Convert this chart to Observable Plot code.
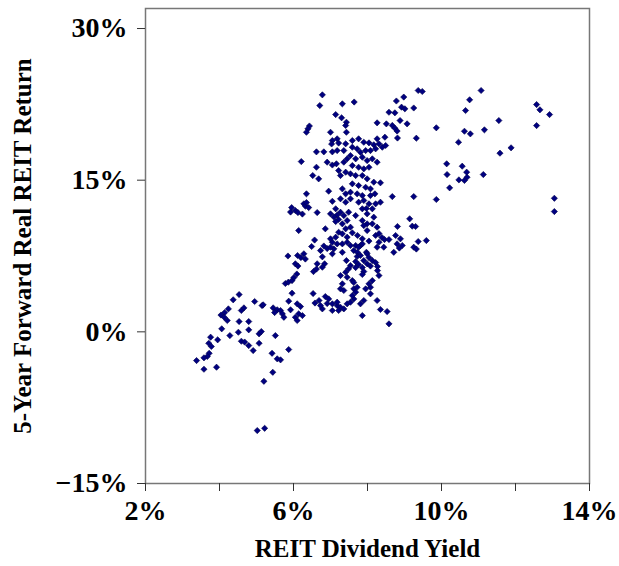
<!DOCTYPE html>
<html><head><meta charset="utf-8">
<script src="https://cdn.jsdelivr.net/npm/d3@7"></script>
<script src="https://cdn.jsdelivr.net/npm/@observablehq/plot@0.6"></script>
<style>body{margin:0;background:#fff}</style>
</head><body><div id="chart"></div>
<script>
const xTitle = "REIT Dividend Yield";
const yTitle = "5-Year Forward Real REIT Return";
const xTicks = [2, 4, 6, 8, 10, 12, 14];
const xTickLabels = ["2%", "", "6%", "", "10%", "", "14%"];
const yTicks = [-15, 0, 15, 30];
const yTickLabels = ["\u221215%", "0%", "15%", "30%"];

// [dividend yield %, 5-year forward real return %]
const lowerLeft = [[4.53,3.69],[4.37,3.17],[4.95,3.00],[5.15,2.60],[4.24,2.27],[4.14,1.91],[4.04,1.66],[4.13,1.44],[4.21,1.12],[4.59,2.11],[4.66,2.37],[4.53,1.02],[4.79,1.02],[4.06,0.30],[4.79,0.20],[4.51,-0.04],[4.28,-0.37],[5.07,-0.20],[5.13,0.03],[5.51,-0.37],[4.59,-0.93],[4.68,-1.01],[4.79,-1.36],[5.07,-1.13],[4.91,-1.85],[3.95,-0.79],[3.76,-0.53],[3.71,-1.13],[3.78,-1.45],[3.72,-2.12],[3.67,-2.44],[3.58,-2.57],[3.38,-2.84],[3.58,-3.70],[3.92,-3.50],[5.42,-2.12],[5.56,-2.67],[5.65,-2.77],[5.87,-1.75],[5.44,-4.00],[5.20,-4.89],[5.02,-9.76],[5.22,-9.54],[5.18,2.67],[5.45,2.37],[5.56,2.18],[5.65,2.11],[5.49,1.91],[5.70,1.78],[5.74,1.44],[5.92,2.18],[5.87,3.03],[5.96,3.82],[6.10,2.77],[6.19,2.50],[6.14,1.78],[6.05,1.44],[6.24,1.61],[6.10,1.12],[5.78,4.78],[5.86,4.91],[5.96,5.07],[6.01,5.37],[6.09,5.72]];
const lowBand = [[6.53,3.79],[6.58,2.85],[6.69,3.10],[6.86,3.49],[6.91,2.80],[6.78,2.27],[6.54,5.96],[6.62,6.21],[6.73,2.60],[6.95,3.26],[7.05,2.77],[7.18,2.60],[7.27,2.43],[7.36,2.27],[7.45,2.77],[7.54,2.93],[7.05,2.11],[7.22,2.11],[7.18,2.93]];
const midLeft = [[5.95,12.29],[5.92,11.85],[6.05,12.00],[6.12,11.80],[6.24,11.65],[6.28,12.66],[6.32,12.44],[6.41,12.29],[6.35,12.79],[6.64,11.80],[6.14,10.02],[6.57,9.08],[6.49,8.44],[6.82,8.49],[6.91,8.24],[6.73,8.04],[7.09,8.21],[6.86,10.19],[5.85,7.50],[6.11,7.55],[6.20,7.35],[6.28,7.72],[6.32,7.20],[6.05,6.73],[6.12,6.51],[6.78,7.42],[7.05,7.72],[6.64,6.73],[6.84,6.73],[6.78,6.39],[7.14,9.36],[7.05,8.86],[7.00,8.37],[7.18,8.70],[7.32,8.70],[7.00,9.20],[7.22,9.85],[7.32,9.69]];
const midUpper = [[7.05,12.91],[7.14,12.17],[7.00,11.67],[7.18,11.55],[7.09,11.36],[7.22,11.11],[7.14,10.91],[7.32,10.68],[7.27,13.16],[7.41,12.82],[7.54,13.16],[7.27,11.83],[7.36,11.50],[7.49,11.83],[7.68,11.50],[7.76,12.82],[7.90,12.99],[7.86,12.17],[7.97,12.20],[8.04,12.66],[8.13,12.17],[7.99,11.67],[8.17,11.34],[8.22,12.66],[8.35,12.82],[8.67,13.38],[9.25,13.38],[9.86,13.09],[7.45,11.01],[7.54,10.35],[7.86,11.01],[7.99,10.68],[8.13,10.68],[8.26,10.35],[8.81,10.42],[9.14,11.18],[9.21,10.45],[9.30,10.42]];
const midCentre = [[7.90,10.51],[7.99,10.02],[7.59,9.79],[7.73,9.53],[7.45,9.36],[7.41,10.19],[7.86,9.20],[8.04,8.98],[8.22,9.53],[8.31,9.72],[8.39,9.33],[8.46,9.13],[8.58,9.13],[8.76,9.53],[8.89,9.20],[8.80,8.70],[8.94,8.54],[8.86,8.29],[8.31,8.86],[7.81,8.54],[7.68,8.54],[7.97,7.87],[7.45,8.86],[7.54,8.54],[7.63,8.04],[7.73,7.87],[7.76,8.37],[7.86,8.70],[8.26,8.37],[8.44,8.37],[8.71,7.87],[9.37,8.93],[9.59,9.03],[9.25,8.37],[9.32,8.19]];
const midLower = [[7.32,7.87],[7.43,7.05],[7.54,6.56],[7.72,7.45],[7.68,6.95],[7.76,6.66],[7.81,7.55],[7.90,7.05],[7.99,7.72],[8.04,7.35],[8.13,7.05],[8.22,6.85],[8.27,6.46],[8.27,6.06],[8.31,5.57],[7.99,6.73],[8.08,6.51],[7.86,6.36],[7.90,5.96],[7.86,5.67],[7.68,6.36],[7.41,5.90],[7.49,6.23],[7.59,5.07],[7.45,5.40],[7.27,5.57],[7.32,4.75],[7.27,4.25],[7.36,4.09],[7.63,4.88],[7.63,4.25],[7.68,3.92],[7.72,4.41],[7.63,3.26],[7.59,3.59],[7.95,4.25],[8.08,4.41],[8.04,4.75],[8.13,5.07],[8.08,3.76],[7.81,2.77],[7.90,3.10],[8.26,3.10],[8.35,2.21],[8.53,2.01],[8.58,0.79],[7.86,1.61]];
const upperLeft = [[6.78,23.44],[6.71,22.38],[7.32,22.55],[7.64,22.73],[7.14,21.49],[7.30,21.17],[7.43,20.73],[7.41,20.41],[6.43,20.36],[6.39,20.08],[6.35,19.74],[7.00,19.74],[7.43,19.74],[7.05,18.92],[7.18,19.09],[7.03,18.58],[7.22,18.67],[7.41,18.60],[6.62,17.80],[6.82,17.80],[7.05,17.80],[7.18,17.93],[7.36,17.93],[6.21,16.84],[6.91,16.78],[7.05,16.50],[7.16,16.62],[7.36,16.78],[7.45,17.11],[6.62,16.28],[7.22,15.95],[7.41,15.79],[7.27,15.46],[6.52,15.46],[6.68,15.13],[6.35,13.65],[6.95,13.91],[7.32,14.14],[7.41,13.65]];
const upperCentre = [[7.59,18.92],[7.76,19.09],[7.90,18.75],[8.04,18.69],[8.17,18.50],[8.26,19.09],[8.31,18.60],[8.22,18.10],[8.40,18.26],[8.49,18.43],[7.59,18.26],[7.72,18.10],[7.81,17.76],[7.95,17.93],[8.08,17.93],[7.54,17.44],[7.68,17.11],[7.86,17.27],[7.99,16.94],[8.13,17.11],[8.26,16.78],[7.59,16.45],[7.76,16.28],[7.90,16.12],[8.04,16.28],[7.54,15.63],[7.68,15.46],[7.86,15.46],[7.99,15.13],[8.17,14.80],[8.35,14.74],[7.59,14.64],[7.76,14.47],[7.95,14.30],[8.08,14.14],[7.54,13.81],[7.72,13.65],[7.86,13.48],[8.08,13.48],[8.20,13.65]];
const upperRight = [[9.37,23.87],[9.48,23.77],[8.78,22.83],[8.98,23.22],[8.92,22.22],[9.01,22.06],[9.25,22.14],[8.58,21.72],[8.74,21.66],[8.26,20.67],[8.51,20.57],[8.67,20.41],[8.74,20.14],[8.80,19.86],[9.07,20.57],[8.88,20.90],[8.47,19.25],[8.81,19.17],[9.32,19.15],[9.86,20.18],[11.07,23.87],[10.76,22.95],[10.65,21.89],[10.62,19.84],[10.78,19.58],[11.16,19.98],[11.55,20.90],[12.57,22.48],[12.66,21.96],[12.92,21.49],[12.57,20.40],[10.46,18.75],[11.58,17.67],[11.88,18.20],[10.14,16.62],[10.56,16.38],[10.15,15.56],[10.68,15.79],[10.69,15.29],[10.47,15.03],[10.62,14.97],[11.13,15.56],[10.22,14.24],[13.05,13.21],[13.05,11.90]];

const points = [...lowerLeft, ...lowBand, ...midLeft, ...midUpper, ...midCentre, ...midLower, ...upperLeft, ...upperCentre, ...upperRight]
  .map(([x, y]) => ({x, y}));

const chart = Plot.plot({
  width: 619,
  height: 566,
  marginLeft: 145,
  marginRight: 30,
  marginTop: 8,
  marginBottom: 83,
  x: {domain: [2, 14]},
  y: {domain: [-15, 31.98]},
  style: {fontFamily: "'Liberation Serif', 'Times New Roman', serif", fontWeight: "bold", background: "#fff", color: "#000"},
  marks: [
    Plot.frame({stroke: "#777", strokeWidth: 1.5}),
    Plot.axisX({ticks: xTicks, tickFormat: d => xTickLabels[xTicks.indexOf(d)], tickSize: 8, tickPadding: 9, fontSize: 28, label: null, stroke: "#333"}),
    Plot.axisY({ticks: yTicks, tickFormat: d => yTickLabels[yTicks.indexOf(d)], tickSize: 8, tickPadding: 10, fontSize: 28, label: null, stroke: "#333"}),
    Plot.dot(points, {x: "x", y: "y", symbol: "diamond2", r: 2.8, fill: "#000080", stroke: "#00004a", strokeWidth: 0.6}),
    Plot.text([xTitle], {frameAnchor: "bottom", dy: 73, text: d => d, fontSize: 25, fontWeight: "bold", textAnchor: "middle"}),
    Plot.text([yTitle], {frameAnchor: "left", dx: -123, rotate: -90, text: d => d, fontSize: 25, fontWeight: "bold", textAnchor: "middle", lineAnchor: "middle"})
  ]
});
document.getElementById("chart").append(chart);
</script>
</body></html>
